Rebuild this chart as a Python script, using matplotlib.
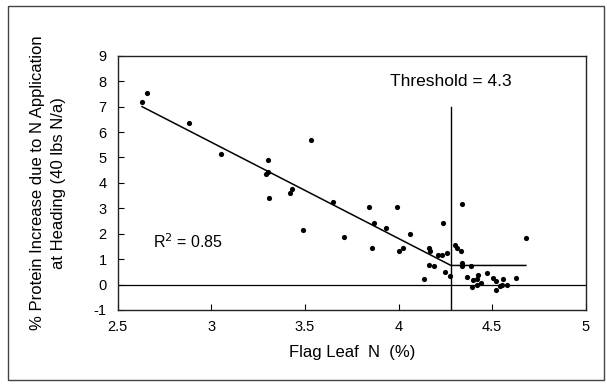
import matplotlib
matplotlib.use('Agg')
import matplotlib.pyplot as plt
from matplotlib.patches import Rectangle
from matplotlib.ticker import MultipleLocator, FormatStrFormatter

plt.rcParams['font.family'] = ['Liberation Sans', 'DejaVu Sans']

leaf_n = [2.63, 2.655, 2.88, 3.05, 3.30, 3.29, 3.30, 3.31, 3.42, 3.43, 3.53, 3.65,
          3.49, 3.71, 3.84, 3.99, 3.87, 3.934, 4.06, 3.86, 4.0, 4.026, 4.24, 4.337,
          4.16, 4.17, 4.213, 4.23, 4.257, 4.30, 4.314, 4.332, 4.337, 4.337, 4.386,
          4.16, 4.187, 4.25, 4.277, 4.137,
          4.365, 4.40, 4.42, 4.42, 4.426, 4.44, 4.39, 4.474,
          4.506, 4.52, 4.54, 4.52, 4.55, 4.56, 4.58, 4.628, 4.68]
protein_inc = [7.19, 7.54, 6.35, 5.15, 4.90, 4.34, 4.42, 3.41, 3.60, 3.75, 5.67, 3.24,
               2.16, 1.86, 3.07, 3.07, 2.44, 2.22, 1.99, 1.44, 1.33, 1.44, 2.42, 3.18,
               1.44, 1.31, 1.18, 1.18, 1.24, 1.57, 1.44, 1.31, 0.85, 0.72, 0.72,
               0.78, 0.72, 0.48, 0.33, 0.22,
               0.31, 0.16, 0.0, 0.22, 0.39, 0.05, -0.10, 0.46,
               0.26, 0.13, -0.07, -0.20, 0.0, 0.20, 0.0, 0.26, 1.83]

# linear-plateau fit
fit_x = [2.63, 4.28, 4.68]
fit_y = [7.0, 0.75, 0.75]
threshold = 4.28
threshold_top = 7.0

fig = plt.figure(figsize=(6.07, 3.85), dpi=100)
ax = fig.add_axes([0.194, 0.195, 0.771, 0.66])

ax.axhline(0, color='black', lw=0.9, zorder=1)
ax.plot([threshold, threshold], [-1, threshold_top], color='black', lw=1.0, zorder=2)
ax.plot(fit_x, fit_y, color='black', lw=1.1, zorder=2)
ax.scatter(leaf_n, protein_inc, s=14, color='black', zorder=3, linewidths=0)

ax.text(threshold, 8.0, 'Threshold = 4.3', ha='center', va='center', fontsize=12.5)
ax.text(2.69, 1.7, 'R$^2$ = 0.85', ha='left', va='center', fontsize=11.5)

ax.set_xlim(2.5, 5)
ax.set_ylim(-1, 9)
ax.xaxis.set_major_locator(MultipleLocator(0.5))
ax.yaxis.set_major_locator(MultipleLocator(1))
ax.xaxis.set_major_formatter(FormatStrFormatter('%g'))
ax.yaxis.set_major_formatter(FormatStrFormatter('%g'))
ax.tick_params(direction='in', length=4, width=0.8, labelsize=10.5, colors='black')
ax.tick_params(axis='y', pad=8)
ax.tick_params(axis='x', pad=7)

for spine in ax.spines.values():
    spine.set_linewidth(1.0)
    spine.set_color('#222222')

ax.set_xlabel('Flag Leaf  N  (%)', fontsize=12, labelpad=8)
ax.set_ylabel('% Protein Increase due to N Application\nat Heading (40 lbs N/a)',
              fontsize=12, labelpad=20, linespacing=1.45)

# outer frame around the whole figure
fig.patches.append(Rectangle((8 / 607, 5 / 385), 596 / 607, 374 / 385,
                             transform=fig.transFigure, fill=False,
                             edgecolor='#444444', lw=1.0))

fig.savefig('out.png', dpi=100, facecolor='white')
plt.close(fig)
